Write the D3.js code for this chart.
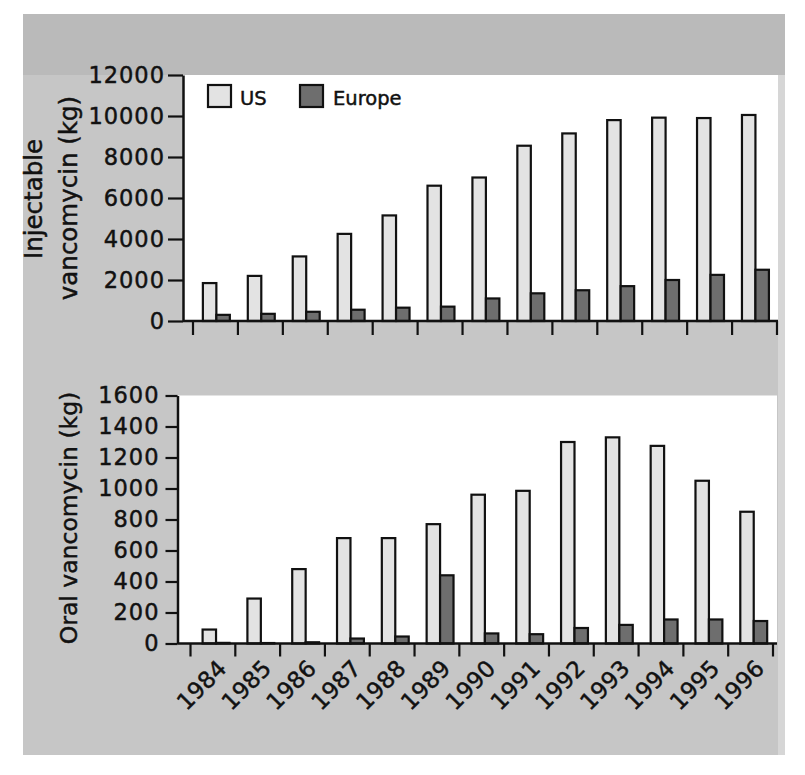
<!DOCTYPE html>
<html><head><meta charset="utf-8">
<script src="https://cdn.jsdelivr.net/npm/d3@7"></script>
<style>
body{margin:0;background:#fff}
text{font-family:"DejaVu Sans",sans-serif;fill:#111;stroke:#111;stroke-width:0.45px}
</style>
</head><body>
<svg id="c" width="805" height="775"></svg>
<script>
const years = ["1984","1985","1986","1987","1988","1989","1990","1991","1992","1993","1994","1995","1996"];
const seriesNames = ["US","Europe"];
const injectableUS     = [1850,2200,3150,4250,5150,6600,7000,8550,9150,9800,9920,9900,10050];
const injectableEurope = [300,350,450,550,650,700,1100,1350,1500,1700,2000,2250,2500];
const oralUS     = [90,290,480,680,680,770,960,985,1300,1330,1275,1050,850];
const oralEurope = [4,3,8,32,45,440,65,60,100,120,155,155,145];
const injTicks  = [0,2000,4000,6000,8000,10000,12000];
const oralTicks = [0,200,400,600,800,1000,1200,1400,1600];

const svg = d3.select("#c");
const colors = {US:"#e3e3e3", Europe:"#6e6e6e"};

// page background (scanned grey)
svg.append("rect").attr("x",23).attr("y",14).attr("width",762).attr("height",741).attr("fill","#c6c6c6");
svg.append("rect").attr("x",23).attr("y",14).attr("width",762).attr("height",61).attr("fill","#bababa");
svg.append("rect").attr("x",778).attr("y",75).attr("width",7).attr("height",680).attr("fill","#d6d6d6");

function panel(cfg){
  const g = svg.append("g");
  const x = d3.scaleBand().domain(years).range(cfg.band).padding(0);
  const y = d3.scaleLinear().domain(cfg.domain).range([cfg.base, cfg.top]);
  const bw = x.bandwidth();
  const x1 = d3.scaleBand().domain(seriesNames).range([bw*cfg.off, bw*(cfg.off+0.6)]).padding(0);

  g.append("rect").attr("x",cfg.axisX).attr("y",cfg.top).attr("width",cfg.right-cfg.axisX)
    .attr("height",cfg.base-cfg.top).attr("fill","#ffffff");

  const rows = years.map((yr,i)=>({yr, US:cfg.us[i], Europe:cfg.eu[i]}));
  const grp = g.selectAll("g.yr").data(rows).join("g").attr("class","yr").attr("transform",d=>`translate(${x(d.yr)},0)`);
  grp.selectAll("rect").data(d=>seriesNames.map(k=>({k, v:d[k]}))).join("rect")
    .attr("x",d=>x1(d.k)).attr("width",x1.bandwidth())
    .attr("y",d=>y(d.v)).attr("height",d=>y(0)-y(d.v))
    .attr("fill",d=>colors[d.k]).attr("stroke","#111").attr("stroke-width",2.2);

  // y axis
  const ya = g.append("g").attr("transform",`translate(${cfg.axisX},0)`)
    .call(d3.axisLeft(y).tickValues(cfg.ticks).tickSize(cfg.tickLen).tickSizeOuter(0).tickPadding(cfg.tickPad).tickFormat(d3.format("d")));
  ya.select(".domain").attr("stroke","#111").attr("stroke-width",2.5);
  ya.selectAll(".tick line").attr("stroke","#111").attr("stroke-width",2.2);
  ya.selectAll(".tick text").style("font-size","22.5px").style("font-family","DejaVu Sans").attr("fill","#111")
    .style("letter-spacing","1px");

  // x axis baseline and band-edge ticks
  g.append("line").attr("x1",cfg.axisX).attr("x2",cfg.right).attr("y1",cfg.base).attr("y2",cfg.base)
    .attr("stroke","#111").attr("stroke-width",2.5);
  const edges = years.map(yr=>x(yr)).concat([x(years[years.length-1])+bw]);
  g.selectAll("line.xt").data(edges).join("line").attr("class","xt")
    .attr("x1",d=>d).attr("x2",d=>d).attr("y1",cfg.base).attr("y2",cfg.base+cfg.xTick)
    .attr("stroke","#111").attr("stroke-width",2.2);

  // y titles
  cfg.titles.forEach(t=>{
    g.append("text").attr("transform",`translate(${t.x},${t.y}) rotate(-90)`)
      .attr("text-anchor","middle").style("font-size",t.size+"px").text(t.text);
  });
  return {x,y,g,bw};
}

const topPanel = panel({band:[193,777], domain:[0,12000], base:321, top:75, axisX:183, right:778,
  us:injectableUS, eu:injectableEurope, ticks:injTicks, tickLen:15, tickPad:3, off:0.22, xTick:14,
  titles:[{x:42,y:199,text:"Injectable",size:24.5},{x:77,y:198,text:"vancomycin (kg)",size:24.5}]});

const botPanel = panel({band:[190.5,773], domain:[0,1600], base:643.5, top:395.5, axisX:177.5, right:777,
  us:oralUS, eu:oralEurope, ticks:oralTicks, tickLen:12, tickPad:6, off:0.27, xTick:13,
  titles:[{x:77,y:518,text:"Oral vancomycin (kg)",size:23.5}]});

// x labels on bottom panel
botPanel.g.selectAll("text.xl").data(years).join("text").attr("class","xl")
  .attr("transform",d=>`translate(${botPanel.x(d)+botPanel.bw/2+15},670) rotate(-45)`)
  .attr("text-anchor","end").style("font-size","23px").text(d=>d);

// legend
const leg = svg.append("g");
const legX = [208,300], legTX=[240,333];
seriesNames.forEach((s,i)=>{
  leg.append("rect").attr("x",legX[i]).attr("y",85).attr("width",23).attr("height",22)
    .attr("fill",colors[s]).attr("stroke","#111").attr("stroke-width",2.2);
  leg.append("text").attr("x",legTX[i]).attr("y",105).style("font-size","19.5px").text(s);
});
</script>
</body></html>
